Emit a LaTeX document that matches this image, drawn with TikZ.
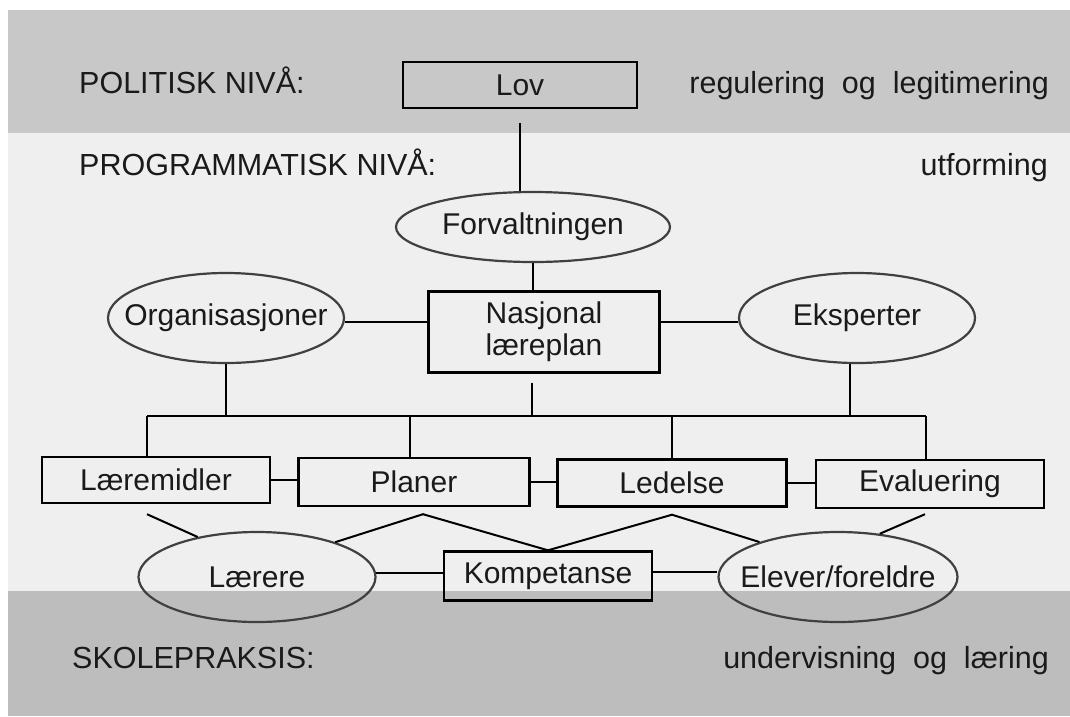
\documentclass[tikz,border=0pt]{standalone}
\usepackage{fontspec}
\setmainfont{Liberation Sans}
\usetikzlibrary{shapes.geometric}
\definecolor{bandtop}{HTML}{C8C8C8}
\definecolor{bandmid}{HTML}{EFEFEF}
\definecolor{bandbot}{HTML}{BDBDBD}
\definecolor{ink}{HTML}{1A1A1A}
\definecolor{ovalline}{HTML}{404040}
\begin{document}
\begin{tikzpicture}[x=1pt,y=-1pt,
  every node/.style={font=\fontsize{30}{32}\selectfont, text=ink, inner sep=0pt},
  boxnode/.style={draw=black, line width=2.4pt, rectangle},
  ovalnode/.style={draw=ovalline, line width=2.2pt, ellipse},
  link/.style={draw=black, line width=2pt},
  lbl/.style={font=\fontsize{30.5}{34}\selectfont}
]
\useasboundingbox (0,0) rectangle (1070,716);
\fill[white] (0,0) rectangle (1070,716);
\fill[bandtop] (8,10) rectangle (1070,133);
\fill[bandmid] (8,133) rectangle (1070,591);
\fill[bandbot] (8,591) rectangle (1070,716);

% level labels
\node[lbl, anchor=base west] (polL) at (79,93) {POLITISK NIVÅ:};
\node[lbl, anchor=base east] (polR) at (1049,93) {regulering\ \ og\ \ legitimering};
\node[lbl, anchor=base west] (progL) at (79,175) {PROGRAMMATISK NIVÅ:};
\node[lbl, anchor=base east] (progR) at (1048,175) {utforming};
\node[lbl, anchor=base west] (skL) at (72,668) {SKOLEPRAKSIS:};
\node[lbl, anchor=base east] (skR) at (1049,668) {undervisning\ \ og\ \ læring};

% nodes
\node[boxnode, minimum width=234pt, minimum height=46pt] (lov) at (520,85) {Lov};
\node[ovalnode, minimum width=274pt, minimum height=70pt] (forv) at (533,227) {\makebox[0pt]{Forvaltningen}};
\node[boxnode, minimum width=231pt, minimum height=81pt, align=center] (nasj) at (544,332) {Nasjonal\\læreplan};
\node[ovalnode, minimum width=236pt, minimum height=90pt] (org) at (226,318) {\makebox[0pt]{Organisasjoner}};
\node[ovalnode, minimum width=236pt, minimum height=90pt] (eksp) at (857,318) {\makebox[0pt]{Eksperter}};

\node[boxnode, minimum width=228pt, minimum height=46pt] (lm) at (156,480) {Læremidler};
\node[boxnode, minimum width=231pt, minimum height=48pt] (pl) at (414,482) {Planer};
\node[boxnode, minimum width=229pt, minimum height=47pt] (ld) at (672,483) {Ledelse};
\node[boxnode, minimum width=228pt, minimum height=48pt] (ev) at (930,484) {Evaluering};

\node[ovalnode, minimum width=237pt, minimum height=90pt] (lar) at (257,577) {\makebox[0pt]{Lærere}};
\node[ovalnode, minimum width=239pt, minimum height=90pt] (elv) at (838,577) {\makebox[0pt]{Elever/foreldre}};
\node[boxnode, minimum width=208pt, minimum height=49pt] (komp) at (548,576) {Kompetanse};

% connectors top part
\draw[link, shorten <=14pt] (lov.south) -- (lov.south |- forv.north);
\draw[link] (forv.south) -- (forv.south |- nasj.north);
\draw[link] ([yshift=-4pt]org.east) -- ([yshift=-4pt]org.east -| nasj.west);
\draw[link] ([yshift=10pt]nasj.east) -- ([yshift=10pt]nasj.east -| eksp.west);

\coordinate (busL) at (147,416);
\coordinate (busR) at (926,416);
\draw[link] (busL) -- (busR);
\draw[link] (org.south) -- (org.south |- busL);
\draw[link] ([xshift=-7pt]eksp.south) -- ([xshift=-7pt]eksp.south |- busL);
\draw[link, shorten <=9pt] ([xshift=-12pt]nasj.south) -- ([xshift=-12pt]nasj.south |- busL);

\draw[link] (busL) -- (busL |- lm.north);
\draw[link] ([xshift=-4pt]pl.north |- busL) -- ([xshift=-4pt]pl.north);
\draw[link] (ld.north |- busL) -- (ld.north);
\draw[link] (busR) -- (busR |- ev.north);

% links between boxes
\draw[link] (lm.east) -- (lm.east -| pl.west);
\draw[link] (pl.east) -- (pl.east -| ld.west);
\draw[link] (ld.east) -- (ld.east -| ev.west);

% lower network
\draw[link] ([xshift=-9pt,yshift=-10pt]lm.south) -- (lar.146);
\draw[link] (lar.24) -- ([xshift=9pt,yshift=-7pt]pl.south) -- (komp.north);
\draw[link] (komp.north) -- ([yshift=-7pt]ld.south) -- (elv.156);
\draw[link] ([xshift=-5pt,yshift=-5pt]ev.south) -- (elv.46);
\draw[link] (lar.2) -- (lar.2 -| komp.west);
\draw[link] ([yshift=4pt]komp.east) -- ([yshift=4pt]komp.east -| elv.west);
\end{tikzpicture}
\end{document}
